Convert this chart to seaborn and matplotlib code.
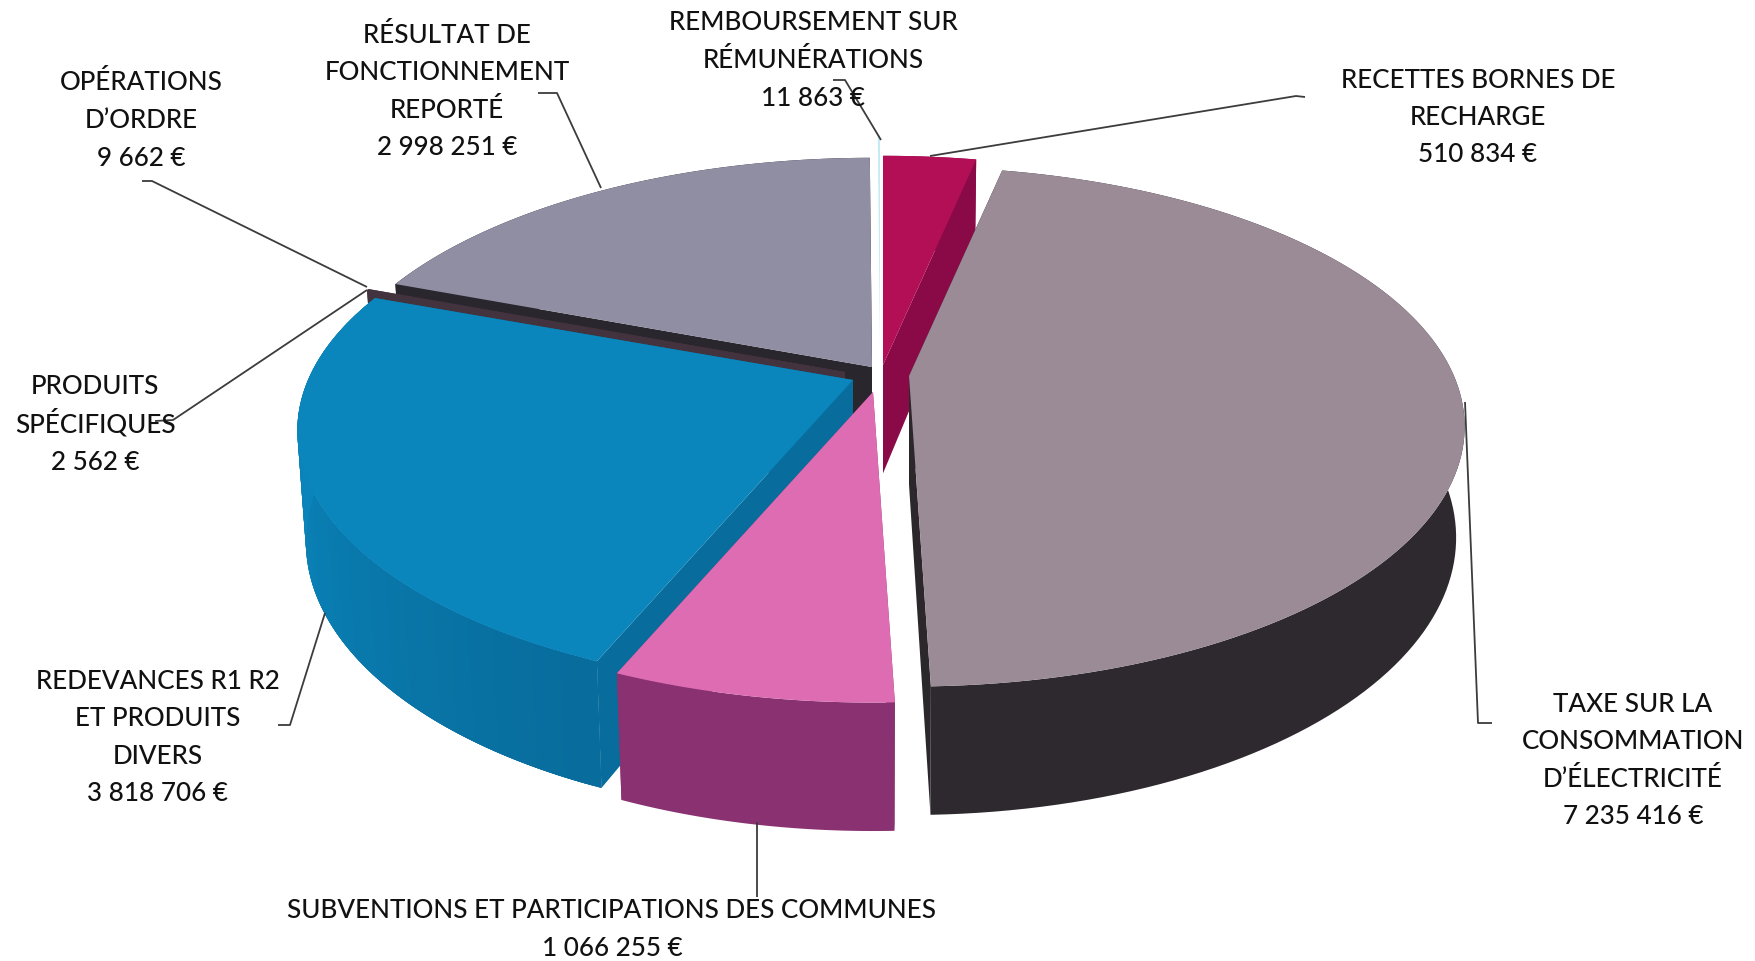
import numpy as np
import matplotlib
matplotlib.use("Agg")
import matplotlib.pyplot as plt
from matplotlib.colors import to_rgb
import seaborn as sns

# -----------------------------
# Chart data
# -----------------------------

names = [
    "RECETTES BORNES DE\nRECHARGE",
    "TAXE SUR LA\nCONSOMMATION\nD’ÉLECTRICITÉ",
    "SUBVENTIONS ET PARTICIPATIONS DES COMMUNES",
    "REDEVANCES R1 R2\nET PRODUITS\nDIVERS",
    "PRODUITS\nSPÉCIFIQUES",
    "OPÉRATIONS\nD’ORDRE",
    "RÉSULTAT DE\nFONCTIONNEMENT\nREPORTÉ",
    "REMBOURSEMENT SUR\nRÉMUNÉRATIONS",
]
values = [510834, 7235416, 1066255, 3818706, 2562, 9662, 2998251, 11863]

# -----------------------------
# Styles (top, outer wall start/end, cut face)
# -----------------------------

top_colors = ["#b20f56", "#9a8b96", "#de6cb3", "#0a86bd", "#43333f", "#43333f", "#8f8ea3", "#c4ebf4"]
wall_start = ["#8a0a47", "#2e292e", "#8a3172", "#086c9c", "#43333f", "#43333f", "#2a262e", "#ffffff"]
wall_end = ["#8a0a47", "#2e292e", "#8a3172", "#0a84ba", "#43333f", "#43333f", "#2a262e", "#ffffff"]
cut_colors = ["#8a0a47", "#2b272b", "#8a3172", "#086c9c", "#43333f", "#43333f", "#2a262e", "#ffffff"]

# where each slice's point sits once pulled out of the pie
apex_x = [883, 909, 873, 853, 845, 845, 872, 880]
apex_y = [365, 376, 392, 380, 372, 372, 367, 345]

label_x = [1478, 1633, 612, 158, 95, 141, 447, 813]
label_y = [116, 759, 928, 736, 423, 119, 90, 59]
LINE_STEP = 37.5

leaders = [
    ([930, 1296, 1305], [156, 96, 97]),
    ([1465, 1478, 1492], [402, 723, 723]),
    ([757, 757], [822, 897]),
    ([325, 290, 278], [613, 725, 725]),
    ([367, 173, 155], [290, 420, 421]),
    ([367, 152, 142], [287, 181, 181]),
    ([601, 557, 538], [188, 93, 93]),
    ([881, 845, 833], [140, 80, 80]),
]

draw_order = [6, 7, 4, 5, 0, 3, 2, 1]

# pie shape on screen
R = 545
B = 250
DEPTH = 110
K = 0.195
M = 0.015

sns.set_theme(style="white")
plt.rcParams["font.family"] = ["Lato", "DejaVu Sans"]


def project(theta, r, h, ax0, ay0):
    # theta is clockwise from 12 o'clock, h=0 top face, h=1 bottom face
    u = r * np.sin(theta)
    v = -r * np.cos(theta)
    w = 1 - K * v + M * h
    return ax0 + R * u / w, ay0 + (B * v + DEPTH * h) / w


fig, ax = plt.subplots(figsize=(17.56, 9.61), dpi=100)
fig.subplots_adjust(0, 0, 1, 1)
ax.set_xlim(0, 1756)
ax.set_ylim(961, 0)
ax.axis("off")

# -----------------------------
# Slices
# -----------------------------

shares = np.array(values) / sum(values)
edges = np.concatenate([[0], np.cumsum(shares)]) * 2 * np.pi

for i in draw_order:
    t = np.linspace(edges[i], edges[i + 1], 121)
    ax0, ay0 = apex_x[i], apex_y[i]

    # cut faces
    for a in (edges[i], edges[i + 1]):
        x1, y1 = project(a, 1, 0, ax0, ay0)
        x2, y2 = project(a, 1, 1, ax0, ay0)
        x3, y3 = project(a, 0, 1, ax0, ay0)
        ax.fill([ax0, x1, x2, x3], [ay0, y1, y2, y3], color=cut_colors[i], lw=0)

    # outer wall, shaded along the arc where the two colours differ
    xt, yt = project(t, 1, 0, ax0, ay0)
    xb, yb = project(t, 1, 1, ax0, ay0)
    ax.fill(np.r_[xt, xb[::-1]], np.r_[yt, yb[::-1]], color=wall_start[i], lw=0)
    if wall_start[i] != wall_end[i]:
        c0, c1 = np.array(to_rgb(wall_start[i])), np.array(to_rgb(wall_end[i]))
        for j in range(len(t) - 1):
            c = c0 + (c1 - c0) * min(1, j / 80)
            k = min(j + 3, len(t) - 1)
            ax.fill([xt[j], xt[k], xb[k], xb[j]], [yt[j], yt[k], yb[k], yb[j]], color=c, lw=0)

    # top
    ax.fill(np.r_[ax0, xt], np.r_[ay0, yt], color=top_colors[i], lw=0)

# -----------------------------
# Leader lines and labels
# -----------------------------

for lx, ly in leaders:
    ax.plot(lx, ly, color="#3c3c3c", lw=1.3, solid_capstyle="butt")

for i, name in enumerate(names):
    amount = f"{values[i]:,}".replace(",", " ") + " €"
    lines = name.split("\n") + [amount]
    for n, line in enumerate(lines):
        base = label_y[i] + (n - (len(lines) - 1) / 2) * LINE_STEP + 9
        ax.text(label_x[i], base, line, ha="center", va="baseline",
                fontsize=18.7, fontweight="medium", color="#111111")

plt.savefig("out.png", dpi=100)
